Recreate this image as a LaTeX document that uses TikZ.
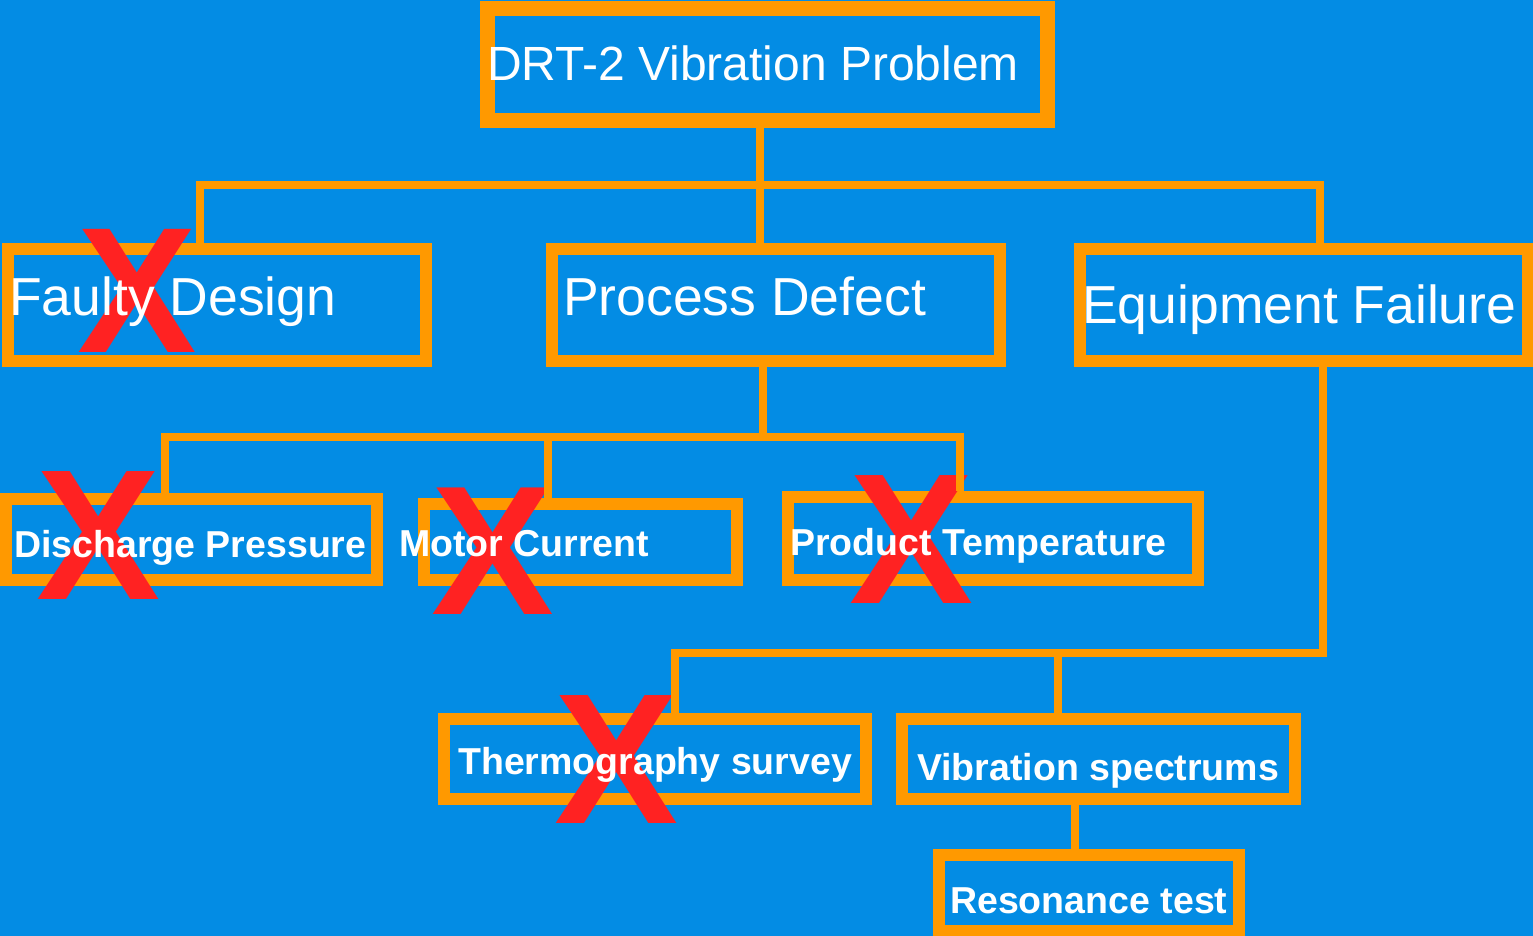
\documentclass[tikz,border=0pt]{standalone}
\usepackage{fontspec}
\setmainfont{Liberation Sans}
\usetikzlibrary{calc}
\definecolor{bg}{RGB}{3,140,228}
\definecolor{orng}{RGB}{255,153,0}
\definecolor{xred}{RGB}{255,34,34}

\begin{document}
\begin{tikzpicture}[x=1pt, y=-1pt,
  box/.style={draw=orng, line width=12pt, fill=bg, inner sep=0pt},
  link/.style={draw=orng, line width=8pt},
  big/.style={text=white, inner sep=0pt, anchor=base west, font=\fontsize{53.5}{60}\selectfont},
  small/.style={text=white, inner sep=0pt, anchor=base west, font=\bfseries\fontsize{37.5}{44}\selectfont},
  cross/.style={text=xred, inner sep=0pt}]

\fill[bg] (0,0) rectangle (1533,936);
\useasboundingbox (0,0) rectangle (1533,936);

\node[box, line width=15pt, minimum width=560pt, minimum height=112pt] (top) at (767.5,64.5) {};
\node[box, minimum width=418pt, minimum height=112pt] (faulty) at (217,305) {};
\node[box, minimum width=448pt, minimum height=112pt] (proc) at (776,305) {};
\node[box, minimum width=448pt, minimum height=112pt] (equip) at (1304,305) {};
\node[box, minimum width=371pt, minimum height=81pt] (dis) at (191.5,539.5) {};
\node[box, minimum width=313pt, minimum height=76pt] (mot) at (580.5,542) {};
\node[box, minimum width=410pt, minimum height=83pt] (prod) at (993,538.5) {};
\node[box, minimum width=422pt, minimum height=80pt] (therm) at (655,759) {};
\node[box, minimum width=393pt, minimum height=80pt] (vib) at (1098.5,759) {};
\node[box, minimum width=300pt, minimum height=76pt] (reson) at (1089,893) {};

% ruled out
\foreach \px/\py/\nm/\s in {137/291/faulty/179, 99/536/dis/186, 493/551/mot/184, 912/540/prod/186, 617/760/therm/186}
{
\node[cross, font=\bfseries\fontsize{\s}{\s}\selectfont] (x\nm) at (\px,\py) {X};
}

\coordinate (b1l) at (200,185);
\coordinate (b1) at (760,185);
\coordinate (b1r) at (1320,185);
\coordinate (b2l) at (165,437);
\coordinate (b2m) at (548,437);
\coordinate (b2) at (763,437);
\coordinate (b2r) at (960,437);
\coordinate (b3l) at (675,653);
\coordinate (b3m) at (1058,653);
\coordinate (b3r) at (1323,653);
\coordinate (b4) at (1075,830);

\draw[link] (b1 |- top.south) -- (b1);
\draw[link] (faulty.north -| b1l) -- (b1l) -- (b1r) -- (equip.north -| b1r);
\draw[link] (b1) -- (proc.north -| b1);
%%%%%%%%%%%%
\draw[link] (b2 |- proc.south) -- (b2);
\draw[link] (dis.north -| b2l) -- (b2l) -- (b2r) -- (prod.north -| b2r);
\draw[link] (b2m) -- (mot.north -| b2m);
%%%%%%%%%%%%
\draw[link] (b3r |- equip.south) -- (b3r) -- (b3l) -- (therm.north -| b3l);
\draw[link] (b3m) -- (vib.north -| b3m);
\draw[link] (vib.south -| b4) -- (reson.north -| b4);

\node[big, font=\fontsize{48}{56}\selectfont] (topt) at (487,81) {DRT-2 Vibration Problem};
\node[big] (faultyt) at (9,315) {Faulty Design};
\node[big] (proct) at (563,315) {Process Defect};
\node[big] (equipt) at (1082,323) {Equipment Failure};

\node[small] (dist) at (14,557) {Discharge Pressure};
\node[small] (mott) at (399,556) {Motor Current};
\node[small] (prodt) at (790,555) {Product Temperature};
\node[small] (thermt) at (458,774) {Thermography survey};
\node[small] (vibt) at (917,780) {Vibration spectrums};
\node[small] (resont) at (950,913) {Resonance test};
\end{tikzpicture}
\end{document}
